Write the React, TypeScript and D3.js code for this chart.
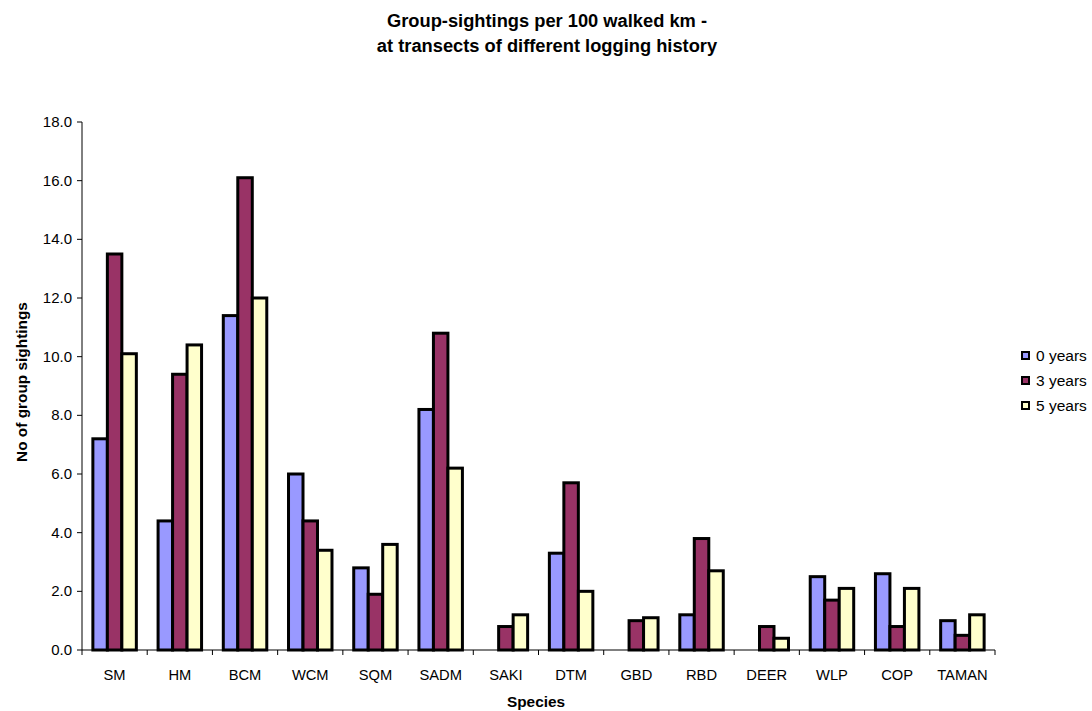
import React from "react";
import * as d3 from "d3";

const categories = ["SM", "HM", "BCM", "WCM", "SQM", "SADM", "SAKI", "DTM", "GBD", "RBD", "DEER", "WLP", "COP", "TAMAN"];
const seriesNames = ["0 years", "3 years", "5 years"];
const years0 = [7.2, 4.4, 11.4, 6.0, 2.8, 8.2, 0, 3.3, 0, 1.2, 0, 2.5, 2.6, 1.0];
const years3 = [13.5, 9.4, 16.1, 4.4, 1.9, 10.8, 0.8, 5.7, 1.0, 3.8, 0.8, 1.7, 0.8, 0.5];
const years5 = [10.1, 10.4, 12.0, 3.4, 3.6, 6.2, 1.2, 2.0, 1.1, 2.7, 0.4, 2.1, 2.1, 1.2];
const yTicks = [0, 2, 4, 6, 8, 10, 12, 14, 16, 18];
const colors = ["#9999FF", "#993366", "#FFFFCC"];

const W = 1092, H = 711;
const left = 82, right = 995, top = 122, bottom = 650;
const FONT = "'Liberation Sans', Arial, sans-serif";

export default function App() {
  const series = [years0, years3, years5];
  const x = d3.scaleBand<string>().domain(categories).range([left, right]).paddingInner(0).paddingOuter(0);
  const y = d3.scaleLinear().domain([0, 18]).range([bottom, top]);
  const bw = x.bandwidth();
  const barW = bw / 4.5;
  const groupOff = (bw - 3 * barW) / 2;

  return (
    <svg width={W} height={H} style={{ position: "absolute", left: 0, top: 0, background: "#fff" }} fontFamily={FONT}>
      <text x={547} y={27} textAnchor="middle" fontSize={18.3} fontWeight="bold">Group-sightings per 100 walked km -</text>
      <text x={547} y={52} textAnchor="middle" fontSize={18.3} fontWeight="bold">at transects of different logging history</text>

      {/* bars */}
      {categories.map((c, i) => (
        <g key={c}>
          {series.map((s, k) =>
            s[i] > 0 ? (
              <rect
                key={k}
                x={(x(c) as number) + groupOff + k * barW}
                y={y(s[i])}
                width={barW}
                height={y(0) - y(s[i])}
                fill={colors[k]}
                stroke="#000"
                strokeWidth={3}
              />
            ) : null
          )}
        </g>
      ))}

      {/* y axis */}
      <line x1={left} x2={left} y1={top} y2={bottom} stroke="#000" strokeWidth={1} />
      {yTicks.map((t) => (
        <g key={t}>
          <line x1={left - 5} x2={left} y1={y(t)} y2={y(t)} stroke="#000" />
          <text x={72} y={y(t) + 5} textAnchor="end" fontSize={15}>{t.toFixed(1)}</text>
        </g>
      ))}

      {/* x axis */}
      <line x1={left} x2={right} y1={bottom} y2={bottom} stroke="#000" strokeWidth={1} />
      {categories.map((c) => (
        <line key={"t" + c} x1={(x(c) as number) + bw} x2={(x(c) as number) + bw} y1={bottom} y2={bottom + 5} stroke="#000" />
      ))}
      <line x1={left} x2={left} y1={bottom} y2={bottom + 5} stroke="#000" />
      {categories.map((c) => (
        <text key={"l" + c} x={(x(c) as number) + bw / 2} y={680} textAnchor="middle" fontSize={14.7}>{c}</text>
      ))}

      <text x={536} y={707} textAnchor="middle" fontSize={15.4} fontWeight="bold">Species</text>
      <text transform={`translate(27,382) rotate(-90)`} textAnchor="middle" fontSize={15.4} fontWeight="bold">No of group sightings</text>

      {/* legend */}
      {seriesNames.map((n, k) => (
        <g key={n}>
          <rect x={1022} y={352 + k * 25} width={7} height={7} fill={colors[k]} stroke="#000" strokeWidth={2} />
          <text x={1036} y={361 + k * 25} fontSize={15.5}>{n}</text>
        </g>
      ))}
    </svg>
  );
}
